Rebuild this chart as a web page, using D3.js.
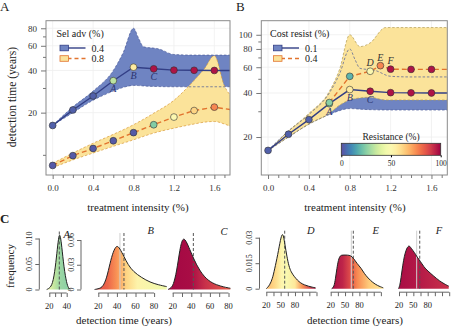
<!DOCTYPE html>
<html><head><meta charset="utf-8">
<script src="https://cdn.jsdelivr.net/npm/d3@7"></script>
<style>
body{margin:0;background:#fff}
svg text{font-family:"Liberation Serif","Times New Roman",serif !important;fill:#222}
</style>
</head><body>
<svg id="c" width="474" height="332"></svg>
<script>
// ---------- DATA ----------
const intensity = [0, 0.2, 0.4, 0.6, 0.8, 1.0, 1.2, 1.4, 1.6, 1.8];
// Panel A
const selAdv04 = [16.2, 20.9, 26.3, 33.8, 42.2, 41.1, 40.2, 40.1, 40.0, 40.0];
const selAdv04Res = [3, 3, 3, 33, 56, 97, 97, 97, 97];
const selAdv08 = [8.4, 9.87, 11.1, 12.6, 14.4, 16.4, 18.6, 20.7, 21.9, 20.8];
const selAdv08Res = [2, 2, 2, 2, 2, 24, 50, 62, 76];
const bandX04 = [0, 0.2, 0.4, 0.6, 0.7, 0.8, 0.85, 0.9, 1.05, 1.2, 1.4, 1.6, 1.8];
const bandHi04 = [16.2, 22, 28.5, 40, 54, 80, 68, 59, 57, 52, 51.5, 51.5, 51.5];
const bandLo04 = [16.2, 20, 24.5, 28.5, 30.3, 31.3, 31.2, 31, 30.7, 30.6, 30.6, 30.6, 30.6];
const bandX08 = [0, 0.2, 0.4, 0.6, 0.8, 1.0, 1.2, 1.4, 1.5, 1.6, 1.7, 1.8];
const bandHi08 = [8.7, 10.3, 12.1, 14, 16.4, 19.8, 24.5, 34, 41, 51, 31, 25];
const bandLo08 = [8.1, 9.2, 10.3, 11.5, 12.8, 14.3, 15.5, 16.6, 17.1, 17.3, 16.6, 15.5];
// Panel B
const cost01 = selAdv04;
const cost01Res = [3, 3, 3, 28, 56, 97, 97, 97, 97];
const cost04X = [0, 0.2, 0.4, 0.6, 0.8, 1.0, 1.1, 1.2, 1.4, 1.6, 1.8];
const cost04 = [16.2, 20.9, 26.3, 34.4, 52, 56.3, 61.5, 58.2, 58.0, 58.0, 58.0];
const cost04Res = [3, 3, 3, 25, 18, 50, 76, 97, 97, 97];
const bandXc04 = [0, 0.2, 0.4, 0.6, 0.7, 0.8, 0.9, 1.0, 1.15, 1.8];
const bandHic04 = [16.1, 22, 29, 41, 58, 100, 83, 88, 112, 112];
const bandLoc04 = [16.1, 20, 24.5, 29, 33, 35.8, 37, 37.4, 35.8, 35.8];
const labelsA = [["A", 0.6], ["B", 0.8], ["C", 1.0]];
const labelsB2 = [["D", 1.0], ["E", 1.1], ["F", 1.2]];
const yTicksMajorA = [20, 40, 60, 80];
const yTicksMinorA = [10, 30, 50, 70];
const yTicksMajorB = [20, 40, 60, 80, 100];
const yTicksMinorB = [30, 50, 70, 90];
const xTicksMajor = [0, 0.4, 0.8, 1.2, 1.6];
const xTicksMinor = [0.1, 0.2, 0.3, 0.5, 0.6, 0.7, 0.9, 1.0, 1.1, 1.3, 1.4, 1.5, 1.7];
// Panel C densities: [years, frequency]
const densA = [[17,0],[21,0.003],[24.6,0.015],[27.7,0.054],[29.6,0.087],[31.5,0.11],[32.8,0.104],[34.2,0.087],[36.9,0.042],[40,0.012],[42,0.003],[44,0]];
const densB = [[16,0],[21,0.001],[25,0.0034],[29,0.0136],[32.6,0.032],[36,0.046],[39.8,0.054],[43,0.05],[47.6,0.04],[52,0.03],[57.7,0.0216],[66.7,0.0143],[75.6,0.0088],[84.5,0.0057],[93.5,0.0035]];
const densC = [[15,0],[18,0.002],[20.6,0.005],[24.3,0.0216],[27.8,0.05],[30.8,0.0628],[34,0.06],[38.6,0.048],[42.2,0.038],[49.4,0.0216],[58.3,0.0103],[67.3,0.0055],[75,0.003],[82,0.0015]];
const densD = [[20,0],[27,0.002],[33,0.006],[37,0.011],[44,0.02],[50,0.0295],[53.5,0.0325],[56,0.031],[59,0.026],[63,0.019],[67.5,0.013],[72,0.0098],[78,0.0073],[85,0.005],[92,0.0033],[100,0.0022],[109,0.0014],[116,0.0009],[123,0.0005]];
const densE = [[22,0],[27,0.001],[30,0.006],[33,0.012],[36,0.017],[40,0.0196],[45,0.0198],[55,0.0198],[62,0.0195],[68,0.0178],[75,0.0148],[84,0.012],[90,0.009],[98,0.0063],[108,0.0036],[118,0.0018],[130,0.0005]];
const densF = [[19,0],[22,0.002],[25,0.008],[28,0.014],[31,0.019],[35,0.023],[39,0.025],[42,0.0253],[46,0.0235],[52,0.0215],[58,0.0185],[65,0.016],[72,0.0128],[80,0.0105],[93,0.0073],[105,0.0045],[115,0.0028],[124,0.0015]];
const densMeans = [31.5, 47.6, 42.2, 58.5, 67.3, 63.4];
const densMedians = [null, 43.3, null, null, 63.1, 57];
const densNames = ["A", "B", "C", "D", "E", "F"];
const ticksA = [20, 26.7, 33.3, 40];
const ticksBC = [20, 30, 40, 50, 60, 70, 80];
const ticksDEF = [20, 35, 50, 65, 80, 95, 110, 125];
const labA = [20, 40], labBC = [20, 40, 60, 80], labDEF = [20, 50, 80];
// resistance colour stops along detection time
const gradA = [[18, 45], [26, 34], [32, 28], [42, 25]];
const gradB = [[18, 86], [30, 82], [40, 74], [50, 62], [62, 53], [90, 45]];
const gradC = [[16, 99], [40, 98], [55, 92], [80, 84]];
const gradD = [[20, 68], [40, 60], [52, 52], [62, 48], [80, 57], [95, 74], [120, 95]];
const gradE = [[22, 98], [45, 94], [60, 87], [75, 76], [100, 64], [130, 58]];
const gradF = [[19, 98], [60, 96], [124, 92]];
const resTicks = [0, 50, 100];

// ---------- DRAW ----------
const svg = d3.select("#c");
const resColor = r => d3.interpolateSpectral(1 - r / 100);
const navy = "#333f86", orange = "#e2742f";
const blueFill = "#6f84c2", yellowFill = "#fbe39a";

function panel(cfg) {
  const x = d3.scaleLinear().domain([-0.066, 1.755]).range([cfg.left, cfg.right]);
  const y = d3.scaleLog().domain(cfg.ydom).range([cfg.bottom, cfg.top]);
  const g = svg.append("g");
  const cid = "clip" + cfg.id;
  svg.append("clipPath").attr("id", cid).append("rect")
    .attr("x", cfg.left).attr("y", cfg.top).attr("width", cfg.right - cfg.left).attr("height", cfg.bottom - cfg.top);
  g.selectAll(".gx").data(xTicksMajor).join("line")
    .attr("x1", d => x(d)).attr("x2", d => x(d)).attr("y1", cfg.top).attr("y2", cfg.bottom)
    .attr("stroke", "#efefef").attr("stroke-width", 0.8);
  g.selectAll(".gy").data(cfg.yMajor).join("line")
    .attr("y1", d => y(d)).attr("y2", d => y(d)).attr("x1", cfg.left).attr("x2", cfg.right)
    .attr("stroke", "#efefef").attr("stroke-width", 0.8);
  const pc = g.append("g").attr("clip-path", `url(#${cid})`);
  const area = d3.area().x(d => x(d[0])).y0(d => y(d[1])).y1(d => y(d[2])).curve(d3.curveMonotoneX);
  const lineHi = d3.line().x(d => x(d[0])).y(d => y(d[2])).curve(d3.curveMonotoneX);
  const lineLo = d3.line().x(d => x(d[0])).y(d => y(d[1])).curve(d3.curveMonotoneX);
  cfg.bands.forEach(b => {
    const pts = b.x.map((v, i) => [v, b.lo[i], b.hi[i]]);
    pc.append("path").datum(pts).attr("d", area).attr("fill", b.fill);
  });
  cfg.bands.forEach(b => {
    const pts = b.x.map((v, i) => [v, b.lo[i], b.hi[i]]);
    [lineHi, lineLo].forEach(l => pc.append("path").datum(pts).attr("d", l)
      .attr("fill", "none").attr("stroke", b.edge).attr("stroke-width", 0.7).attr("stroke-dasharray", "2.5,1.8"));
  });
  cfg.series.forEach(s => {
    const pts = s.x.map((v, i) => [v, s.y[i]]);
    pc.append("path").datum(pts).attr("d", d3.line().x(d => x(d[0])).y(d => y(d[1])))
      .attr("fill", "none").attr("stroke", s.stroke).attr("stroke-width", 1.4)
      .attr("stroke-dasharray", s.dash || null);
  });
  cfg.series.forEach(s => {
    pc.selectAll(null).data(s.res).join("circle")
      .attr("cx", (d, i) => x(s.x[i])).attr("cy", (d, i) => y(s.y[i])).attr("r", 3.4)
      .attr("fill", d => resColor(d)).attr("stroke", "#333").attr("stroke-width", 0.6);
  });
  g.append("rect").attr("x", cfg.left).attr("y", cfg.top).attr("width", cfg.right - cfg.left)
    .attr("height", cfg.bottom - cfg.top).attr("fill", "none").attr("stroke", "#8a8a8a").attr("stroke-width", 1);
  g.append("g").attr("transform", `translate(0,${cfg.bottom})`)
    .call(d3.axisBottom(x).tickValues(xTicksMajor).tickFormat(d3.format(".1f")).tickSize(4).tickPadding(6));
  g.append("g").attr("transform", `translate(0,${cfg.bottom})`)
    .call(d3.axisBottom(x).tickValues(xTicksMinor).tickFormat("").tickSize(3))
    .call(a => a.select(".domain").remove());
  g.append("g").attr("transform", `translate(${cfg.left},0)`)
    .call(d3.axisLeft(y).tickValues(cfg.yMajor).tickFormat(d3.format("d")).tickSize(5).tickPadding(4));
  g.append("g").attr("transform", `translate(${cfg.left},0)`)
    .call(d3.axisLeft(y).tickValues(cfg.yMinor.filter(v => v > cfg.ydom[0])).tickFormat("").tickSize(3))
    .call(a => a.select(".domain").remove());
  g.selectAll(".domain").remove();
  g.selectAll(".tick line").attr("stroke", "#777");
  g.selectAll(".tick text").attr("font-size", 9).style("fill", "#333");
  return {x, y, g};
}

const pA = panel({id: "A", left: 46, right: 230, top: 20.7, bottom: 175, ydom: [7.18, 90.6],
  yMajor: yTicksMajorA, yMinor: yTicksMinorA,
  bands: [{x: bandX04, hi: bandHi04, lo: bandLo04, fill: blueFill, edge: "#4b5a98"},
          {x: bandX08, hi: bandHi08, lo: bandLo08, fill: yellowFill, edge: "#d99a3a"}],
  series: [{x: intensity, y: selAdv04, res: selAdv04Res, stroke: navy},
           {x: intensity, y: selAdv08, res: selAdv08Res, stroke: orange, dash: "5,3"}]});
const pB = panel({id: "B", left: 261.3, right: 447.3, top: 20.7, bottom: 175, ydom: [11.0, 124.8],
  yMajor: yTicksMajorB, yMinor: yTicksMinorB,
  bands: [{x: bandX04, hi: bandHi04, lo: bandLo04, fill: blueFill, edge: "#4b5a98"},
          {x: bandXc04, hi: bandHic04, lo: bandLoc04, fill: yellowFill, edge: "#b09a50"}],
  series: [{x: intensity, y: cost01, res: cost01Res, stroke: navy},
           {x: cost04X.slice(3), y: cost04.slice(3), res: cost04Res.slice(3), stroke: orange, dash: "5,3"}]});

function ptLabels(p, labs, xs, ys, dy, color) {
  labs.forEach(([t, xv]) => {
    const i = xs.indexOf(xv);
    p.g.append("text").attr("x", p.x(xv)).attr("y", p.y(ys[i]) + dy).attr("text-anchor", "middle")
      .attr("font-size", 10).attr("font-style", "italic").style("fill", color).text(t);
  });
}
ptLabels(pA, labelsA, intensity, selAdv04, 11.5, "#2c3470");
ptLabels(pB, labelsA, intensity, cost01, 11.5, "#2c3470");
ptLabels(pB, labelsB2, cost04X, cost04, -5, "#333");

function legend(x0, y0, title, items) {
  const g = svg.append("g");
  g.append("text").attr("x", x0).attr("y", y0).attr("font-size", 10).text(title);
  items.forEach((it, i) => {
    const yy = y0 + 11.5 + i * 10.5;
    g.append("line").attr("x1", x0 + 4).attr("x2", x0 + 29).attr("y1", yy).attr("y2", yy)
      .attr("stroke", it.stroke).attr("stroke-width", 1.4).attr("stroke-dasharray", it.dash || null);
    g.append("rect").attr("x", x0 + 3.5).attr("y", yy - 2.8).attr("width", 8.5).attr("height", 5.6)
      .attr("fill", it.fill).attr("stroke", it.stroke).attr("stroke-width", 0.8);
    g.append("text").attr("x", x0 + 35).attr("y", yy + 3.5).attr("font-size", 10).text(it.label);
  });
}
legend(56.5, 36.5, "Sel adv (%)", [{label: "0.4", fill: blueFill, stroke: navy}, {label: "0.8", fill: yellowFill, stroke: orange, dash: "4,3"}]);
legend(270, 36.5, "Cost resist (%)", [{label: "0.1", fill: blueFill, stroke: navy}, {label: "0.4", fill: yellowFill, stroke: orange, dash: "4,3"}]);

// colour bar
const cbx = d3.scaleLinear().domain([0, 100]).range([341.3, 440.7]);
const defs = svg.append("defs");
const cg = defs.append("linearGradient").attr("id", "cbar");
d3.range(0, 101, 5).forEach(v => cg.append("stop").attr("offset", v + "%").attr("stop-color", resColor(v)));
svg.append("rect").attr("x", cbx(0)).attr("y", 143.3).attr("width", cbx(100) - cbx(0)).attr("height", 12)
  .attr("fill", "url(#cbar)").attr("stroke", "#333").attr("stroke-width", 0.8);
svg.append("text").attr("x", cbx(50)).attr("y", 139.5).attr("text-anchor", "middle").attr("font-size", 9.5).text("Resistance (%)");
svg.append("g").attr("transform", "translate(0,155.3)")
  .call(d3.axisBottom(cbx).tickValues(resTicks).tickSize(2).tickPadding(3))
  .call(a => a.select(".domain").remove())
  .call(a => a.selectAll("text").attr("font-size", 7.5));

svg.append("text").attr("transform", "translate(16,97) rotate(-90)").attr("text-anchor", "middle").attr("font-size", 11.5).text("detection time (years)");
svg.append("text").attr("x", 138).attr("y", 211).attr("text-anchor", "middle").attr("font-size", 11).text("treatment intensity (%)");
svg.append("text").attr("x", 355).attr("y", 211).attr("text-anchor", "middle").attr("font-size", 11).text("treatment intensity (%)");
svg.append("text").attr("x", 0).attr("y", 11).attr("font-size", 13).text("A");
svg.append("text").attr("x", 236).attr("y", 11).attr("font-size", 13).text("B");
svg.append("text").attr("x", 0).attr("y", 223).attr("font-size", 13).attr("font-weight", "bold").text("C");

// ---------- Panel C ----------
const small = [
  {d: densA, grad: gradA, x0: 49.3, ppy: 0.87, xt: ticksA, xl: labA, ymax: 0.1, yTop: 238.5, y0: 289.5, yt: [0, 0.05, 0.1], ytl: ["0", "0.05", "0.10"], axisX: 39.3, name: [66.7, 237.5]},
  {d: densB, grad: gradB, x0: 98.3, ppy: 0.93, xt: ticksBC, xl: labBC, ymax: 0.06, yTop: 240, y0: 289.5, yt: [0, 0.03, 0.06], ytl: ["0", "0.03", "0.06"], axisX: 81, name: [150.7, 234]},
  {d: densC, grad: gradC, x0: 172.7, ppy: 0.93, xt: ticksBC, xl: labBC, ymax: 0.06, yTop: 240, y0: 289.5, yt: null, name: [224, 235]},
  {d: densD, grad: gradD, x0: 266.3, ppy: 0.478, xt: ticksDEF, xl: labDEF, ymax: 0.03, yTop: 237.7, y0: 288.7, yt: [0, 0.015, 0.03], ytl: ["0", "0.015", "0.03"], axisX: 259.5, name: [310.7, 234]},
  {d: densE, grad: gradE, x0: 330.7, ppy: 0.478, xt: ticksDEF, xl: labDEF, ymax: 0.03, yTop: 237.7, y0: 288.7, yt: null, name: [375.7, 234]},
  {d: densF, grad: gradF, x0: 399, ppy: 0.478, xt: ticksDEF, xl: labDEF, ymax: 0.03, yTop: 237.7, y0: 288.7, yt: null, name: [439, 234]}
];
small.forEach((p, k) => {
  const x = d3.scaleLinear().domain([20, 80]).range([p.x0, p.x0 + 60 * p.ppy]);
  const y = d3.scaleLinear().domain([0, p.ymax]).range([p.y0, p.yTop]);
  const gid = "dg" + k;
  const g0 = p.grad[0][0], g1 = p.grad[p.grad.length - 1][0];
  const lg = defs.append("linearGradient").attr("id", gid).attr("gradientUnits", "userSpaceOnUse")
    .attr("x1", x(g0)).attr("x2", x(g1)).attr("y1", 0).attr("y2", 0);
  p.grad.forEach(([t, r]) => lg.append("stop").attr("offset", ((t - g0) / (g1 - g0) * 100) + "%").attr("stop-color", resColor(r)));
  svg.append("path").datum(p.d).attr("d", d3.area().x(d => x(d[0])).y0(p.y0).y1(d => y(d[1])).curve(d3.curveBasis))
    .attr("fill", `url(#${gid})`);
  if (densMedians[k]) svg.append("line").attr("x1", x(densMedians[k])).attr("x2", x(densMedians[k]))
    .attr("y1", p.yTop - 7).attr("y2", p.y0).attr("stroke", "#cfcfcf").attr("stroke-width", 1);
  svg.append("line").attr("x1", x(densMeans[k])).attr("x2", x(densMeans[k])).attr("y1", p.yTop - 7).attr("y2", p.y0)
    .attr("stroke", "#555").attr("stroke-width", 1).attr("stroke-dasharray", "3,2");
  svg.append("path").datum(p.d).attr("d", d3.line().x(d => x(d[0])).y(d => y(d[1])).curve(d3.curveBasis))
    .attr("fill", "none").attr("stroke", "#222").attr("stroke-width", 1);
  const ax = svg.append("g").attr("transform", `translate(0,${p.y0 + 3.5})`)
    .call(d3.axisBottom(x).tickValues(p.xt).tickFormat("").tickSize(4));
  ax.select(".domain").attr("d", `M${x(p.xt[0])},0H${x(p.xt[p.xt.length - 1])}`).attr("stroke", "#666");
  ax.selectAll("line").attr("stroke", "#666");
  p.xl.forEach(v => svg.append("text").attr("x", x(v)).attr("y", p.y0 + 19.5).attr("text-anchor", "middle").attr("font-size", 8.5).text(v));
  if (p.yt) {
    const ay = svg.append("g").attr("transform", `translate(${p.axisX},0)`)
      .call(d3.axisLeft(y).tickValues(p.yt).tickFormat("").tickSize(4));
    ay.selectAll("line").attr("stroke", "#666");
    ay.select(".domain").attr("d", `M0,${y(p.yt[0])}V${y(p.yt[p.yt.length - 1])}`).attr("stroke", "#666");
    p.yt.forEach((v, i) => svg.append("text").attr("transform", `translate(${p.axisX - 7.5},${y(v)}) rotate(-90)`)
      .attr("text-anchor", "middle").attr("font-size", 8).text(p.ytl[i]));
  }
  svg.append("text").attr("x", p.name[0]).attr("y", p.name[1]).attr("text-anchor", "middle")
    .attr("font-size", 10.5).attr("font-style", "italic").text(densNames[k]);
});
svg.append("text").attr("transform", "translate(14,266) rotate(-90)").attr("text-anchor", "middle").attr("font-size", 11).text("frequency");
svg.append("text").attr("x", 124).attr("y", 324).attr("text-anchor", "middle").attr("font-size", 11).text("detection time (years)");
svg.append("text").attr("x", 355).attr("y", 324).attr("text-anchor", "middle").attr("font-size", 11).text("detection time (years)");
</script>
</body></html>
